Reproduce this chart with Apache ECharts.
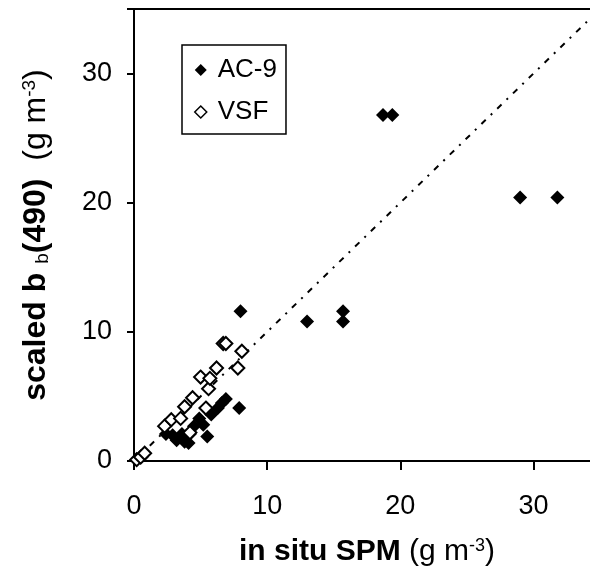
<!DOCTYPE html>
<html>
<head>
<meta charset="utf-8">
<script src="https://cdn.jsdelivr.net/npm/echarts@6/dist/echarts.min.js"></script>
<style>
html,body{margin:0;padding:0;background:#fff;}
#chart{width:590px;height:572px;}
</style>
</head>
<body>
<div id="chart"></div>
<script>
// in situ SPM (g m-3) vs scaled bb(490) (g m-3)
var seriesNames = ['AC-9', 'VSF'];
var ac9 = [
  [2.4, 2.1], [2.9, 2.0], [3.2, 1.6], [3.6, 2.1], [3.8, 1.5], [4.1, 1.4], [4.2, 2.1],
  [4.5, 2.7], [4.9, 3.3], [5.2, 2.8], [5.5, 1.9], [5.8, 3.6], [6.3, 4.1], [6.6, 4.5],
  [6.9, 4.8], [7.9, 4.1], [8.0, 11.6], [13.0, 10.8], [15.7, 11.6], [15.7, 10.8],
  [18.7, 26.8], [19.4, 26.8], [29.0, 20.4], [31.8, 20.4]
];
var vsf = [
  [0.2, 0.1], [0.5, 0.3], [0.8, 0.6], [2.3, 2.7], [2.8, 3.2], [3.5, 3.3], [3.8, 4.2],
  [4.2, 2.2], [4.4, 4.9], [5.0, 6.5], [5.4, 4.1], [5.6, 5.6], [5.7, 6.4], [6.2, 7.2],
  [6.7, 9.1], [6.9, 9.1], [7.8, 7.2], [8.1, 8.5]
];
var oneToOne = [[0, 0], [35, 35]];
var xTicks = [0, 10, 20, 30];
var yTicks = [0, 10, 20, 30];

var chart = echarts.init(document.getElementById('chart'));
var FONT = '"Liberation Sans", Arial, sans-serif';
chart.setOption({
  animation: false,
  backgroundColor: '#fff',
  textStyle: { fontFamily: FONT, color: '#000' },
  grid: {
    left: 134, top: 9, width: 466, height: 452,
    containLabel: false, outerBoundsMode: 'none',
    show: true, borderColor: '#000', borderWidth: 2
  },
  legend: {
    orient: 'vertical',
    left: 182, top: 45,
    padding: [12, 9, 9, 12],
    itemGap: 16,
    itemWidth: 12, itemHeight: 12,
    borderColor: '#000', borderWidth: 1.5,
    textStyle: { fontFamily: FONT, fontSize: 26, color: '#000', padding: [0, 0, 0, 6] },
    data: [
      { name: 'AC-9', icon: 'diamond', itemStyle: { color: '#000', borderWidth: 0 } },
      { name: 'VSF', icon: 'diamond', itemStyle: { color: '#fff', borderColor: '#000', borderWidth: 1.5 } }
    ]
  },
  xAxis: {
    type: 'value', min: 0, max: 35, interval: 10,
    splitLine: { show: false },
    axisLine: { lineStyle: { color: '#000', width: 2 } },
    axisTick: { show: true, length: 9, lineStyle: { color: '#000', width: 2 } },
    axisLabel: {
      fontSize: 27, color: '#000', fontFamily: FONT, margin: 32,
      formatter: function (v) { return xTicks.indexOf(v) >= 0 ? String(v) : ''; }
    },
    name: '{b|in situ SPM}{n| (g m}{sup|-3}{n|)}',
    nameLocation: 'middle', nameGap: 76,
    nameTextStyle: {
      rich: {
        b: { fontSize: 30, fontWeight: 'bold', fontFamily: FONT, color: '#000' },
        n: { fontSize: 30, fontFamily: FONT, color: '#000' },
        sup: { fontSize: 18, fontFamily: FONT, color: '#000', verticalAlign: 'top' }
      }
    }
  },
  yAxis: {
    type: 'value', min: 0, max: 35, interval: 10,
    splitLine: { show: false },
    axisLine: { lineStyle: { color: '#000', width: 2 } },
    axisTick: { show: true, length: 7, lineStyle: { color: '#000', width: 2 } },
    axisLabel: {
      fontSize: 27, color: '#000', fontFamily: FONT, margin: 22,
      formatter: function (v) { return yTicks.indexOf(v) >= 0 ? String(v) : ''; }
    },
    name: '{b|scaled b }{sub|b}{b|(490)}{n|  (g m}{sup|-3}{n|)}',
    nameLocation: 'middle', nameGap: 82,
    nameTextStyle: {
      rich: {
        b: { fontSize: 32, fontWeight: 'bold', fontFamily: FONT, color: '#000' },
        sub: { fontSize: 19, fontFamily: FONT, color: '#000', verticalAlign: 'bottom' },
        n: { fontSize: 32, fontFamily: FONT, color: '#000' },
        sup: { fontSize: 19, fontFamily: FONT, color: '#000', verticalAlign: 'top' }
      }
    }
  },
  series: [
    {
      name: '1:1', type: 'line', data: oneToOne, symbol: 'none', z: 1,
      lineStyle: { color: '#000', width: 2, type: [6, 7, 2, 7] },
      silent: true
    },
    {
      name: seriesNames[0], type: 'scatter', data: ac9, symbol: 'diamond', symbolSize: 14, z: 2,
      itemStyle: { color: '#000', opacity: 1 }
    },
    {
      name: seriesNames[1], type: 'scatter', data: vsf, symbol: 'diamond', symbolSize: 13, z: 3,
      itemStyle: { color: '#fff', borderColor: '#000', borderWidth: 2, opacity: 1 }
    }
  ]
});
</script>
</body>
</html>
